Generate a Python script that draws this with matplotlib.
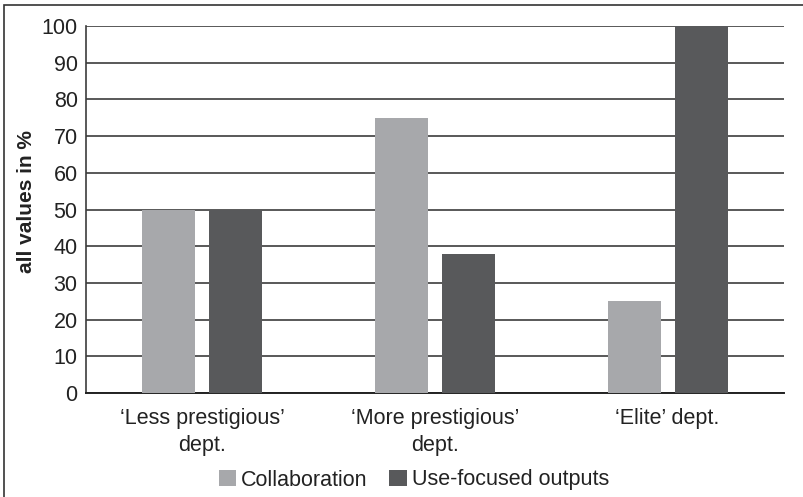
import numpy as np
import matplotlib
matplotlib.use('Agg')
import matplotlib.pyplot as plt
from matplotlib.patches import Rectangle

plt.rcParams['font.family'] = ['Liberation Sans', 'DejaVu Sans']

# data
categories = ["\u2018Less prestigious\u2019\ndept.", "\u2018More prestigious\u2019\ndept.", "\u2018Elite\u2019 dept."]
collaboration = [50, 75, 25]
use_focused = [50, 38, 100]
series_names = ["Collaboration", "Use-focused outputs"]

LIGHT = '#a7a8ab'
DARK = '#58595b'
GRID = '#3c3c3c'

fig = plt.figure(figsize=(8.04, 4.97), dpi=100)
ax = fig.add_axes([86 / 804, 1 - 393 / 497, (784 - 86) / 804, (393 - 26) / 497])

x = np.arange(len(categories))
w = 0.228
off = 0.144
ax.bar(x - off, collaboration, w, color=LIGHT, label=series_names[0], zorder=3)
ax.bar(x + off, use_focused, w, color=DARK, label=series_names[1], zorder=3)

ax.set_xlim(-0.5, 2.5)
ax.set_ylim(0, 100)
ax.set_yticks(range(0, 101, 10))
ax.yaxis.grid(True, color=GRID, linewidth=1.2, zorder=0)
ax.set_axisbelow(True)
for s in ['top', 'right']:
    ax.spines[s].set_visible(False)
ax.spines['left'].set_color(GRID)
ax.spines['bottom'].set_color('#222222')
ax.spines['left'].set_linewidth(1.2)
ax.spines['bottom'].set_linewidth(1.4)
ax.tick_params(axis='both', length=0, labelsize=15.5, colors='#222222')
ax.tick_params(axis='y', pad=6)
ax.tick_params(axis='x', pad=11)
ax.set_xticks(x)
ax.set_xticklabels(categories, linespacing=1.35)

fig.text(27 / 804, 1 - 202 / 497, "all values in %", rotation=90, fontsize=15,
         fontweight='bold', ha='center', va='center', color='#222222')

leg = fig.legend(loc='center', bbox_to_anchor=(414 / 804, 1 - 480 / 497), ncol=2,
                 frameon=False, fontsize=15.5, handlelength=0.8, handleheight=0.8,
                 handletextpad=0.25, columnspacing=1.0)
for t in leg.get_texts():
    t.set_color('#222222')

# outer frame around the figure
fig.patches.append(Rectangle((4 / 804, -0.05), 1.2, 1 - 5 / 497 + 0.05,
                             transform=fig.transFigure, fill=False,
                             edgecolor='#333333', linewidth=1.2))

fig.savefig('out.png', dpi=100)
